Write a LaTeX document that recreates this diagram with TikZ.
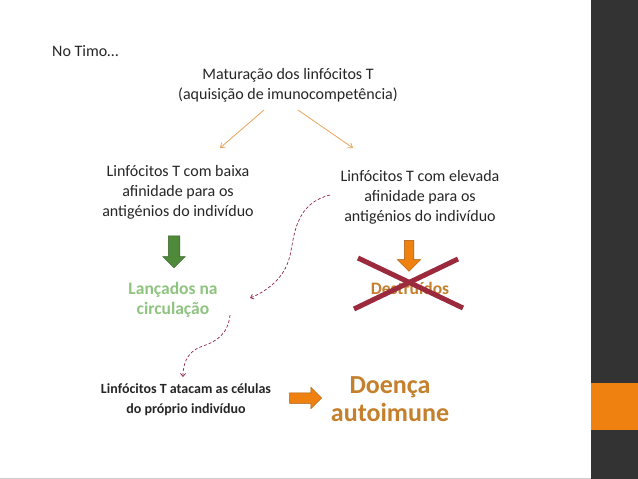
\documentclass[tikz,border=0pt]{standalone}
\usepackage{fontspec}
\setmainfont{Carlito}
\usetikzlibrary{shapes.arrows,arrows.meta}
\definecolor{txtgray}{HTML}{262626}
\definecolor{lineorange}{HTML}{E9A45C}
\definecolor{blockorange}{HTML}{EE8110}
\definecolor{blockgreen}{HTML}{4E8A3A}
\definecolor{softgreen}{HTML}{8EC47F}
\definecolor{crossred}{HTML}{9A2A3C}
\definecolor{dashred}{HTML}{8E2546}
\definecolor{brownorange}{HTML}{C4802C}
\definecolor{barcolor}{HTML}{333333}
\begin{document}
\begin{tikzpicture}[x=1pt,y=-1pt,
  font=\fontsize{16}{20}\selectfont,
  txt/.style={text=txtgray,align=center,inner sep=0pt},
  thin arrow/.style={lineorange,-{Straight Barb[length=4pt,width=6pt]},line width=0.8pt},
  dash arrow/.style={dashred,dash pattern=on 3pt off 2pt,line width=0.7pt,-{Straight Barb[length=3pt,width=5pt]}},
  block/.style={single arrow,draw=#1!70!black,fill=#1,line width=0.5pt,
    inner sep=5.5pt,single arrow head extend=5.5pt,single arrow tip angle=90}]
% page and side bar
\useasboundingbox (0,0) rectangle (638,479);
\fill[white] (0,0) rectangle (638,479);
\fill[barcolor] (591,0) rectangle (638,479);
\fill[blockorange] (591,383) rectangle (638,430);
\draw[gray!40,line width=1pt] (0,478.5) -- (591,478.5);

% texts
\node[txt,anchor=west] (timo) at (52,51) {No Timo…};
\node[txt] (mat) at (288,85) {Maturação dos linfócitos T\\(aquisição de imunocompetência)};
\node[txt] (baixa) at (178,192) {Linfócitos T com baixa\\afinidade para os\\antigénios do indivíduo};
\node[txt] (elev) at (420,197) {Linfócitos T com elevada\\afinidade para os\\antigénios do indivíduo};
\node[txt,text=softgreen,font=\fontsize{17.5}{20}\selectfont\bfseries] (lanc) at (173,300) {Lançados na\\circulação};
\node[txt,text=brownorange,font=\fontsize{17.5}{20}\selectfont\bfseries] (destr) at (410,288) {Destruídos};
\node[txt,font=\fontsize{14}{20}\selectfont\bfseries] (ataca) at (186,400) {Linfócitos T atacam as células\\do próprio indivíduo};
\node[txt,text=brownorange,font=\fontsize{26}{28}\selectfont\bfseries] (doenca) at (390,399) {Doença\\autoimune};

% thin arrows from the top
\coordinate (mL) at (264,110);
\coordinate (mR) at (298,110);
\coordinate (bT) at (220,148);
\coordinate (eT) at (353,148);
\draw[thin arrow] (mL) -- (bT);
\draw[thin arrow] (mR) -- (eT);

% block arrows
\node[block=blockgreen,shape border rotate=270,minimum height=32pt] (gdown) at (174,249) {};
\node[block=blockorange,shape border rotate=270,minimum height=31pt,inner sep=4.5pt,single arrow head extend=7pt] (odown) at (409,253.5) {};
\node[block=blockorange,minimum height=32pt,inner sep=5pt] (oright) at (303,398) {};

% cross
\coordinate (x1) at (358,258);
\coordinate (x2) at (463,308);
\coordinate (x3) at (458,259);
\coordinate (x4) at (354,309);
\draw[crossred,line width=5pt] (x1) -- (x2);
\draw[crossred,line width=5pt] (x3) -- (x4);

% dashed curves
\coordinate (d1) at (330,195);
\coordinate (d2) at (250,298);
\draw[dash arrow] (d1) .. controls (290,205) and (295,245) .. (288,262)
  .. controls (282,280) and (265,292) .. (d2);
\coordinate (d3) at (230,315);
\coordinate (d4) at (183,377);
\draw[dash arrow] (d3) .. controls (228,335) and (215,342) .. (203,346)
  .. controls (190,350) and (183,360) .. (d4);
\end{tikzpicture}
\end{document}
